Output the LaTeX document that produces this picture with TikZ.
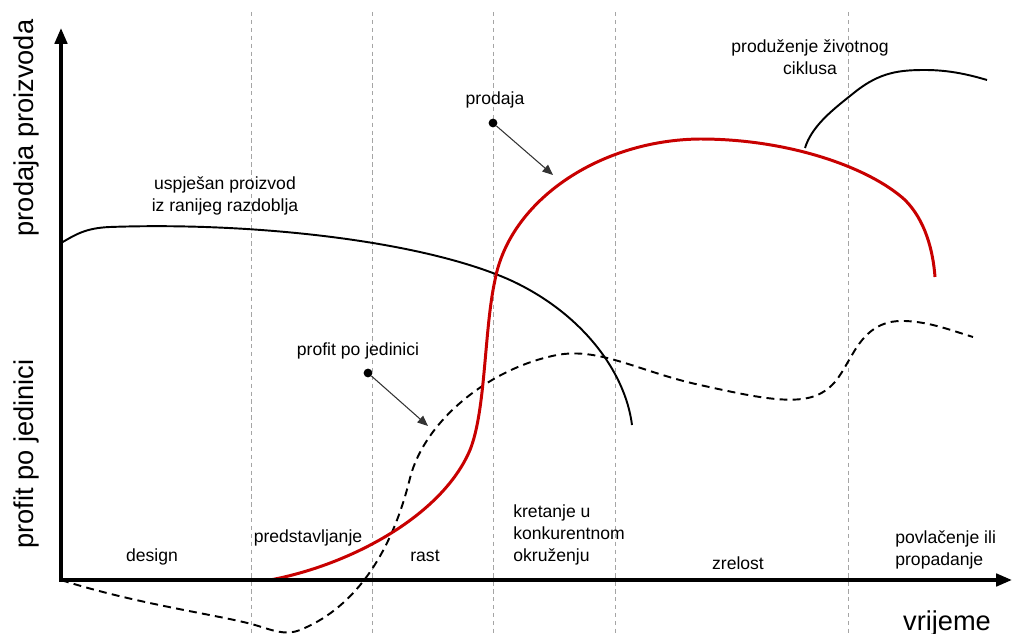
\documentclass[tikz,border=0pt]{standalone}
\usepackage{fontspec}
\setmainfont{Liberation Sans}
\usepackage{xcolor}
\usetikzlibrary{positioning}
\usetikzlibrary{arrows.meta}
\definecolor{darkred}{RGB}{200,0,0}
\definecolor{guidegray}{RGB}{165,165,165}
\tikzset {
  % axes and phase borders
  axis/.style={line width=2pt, {Triangle[length=9pt,width=7pt]}-{Triangle[length=9pt,width=7pt]}},
  phase/.style={guidegray, line width=0.5pt, dash pattern=on 2.5pt off 2pt},
  % the three curves
  sales/.style={darkred, line width=1.7pt},
  older/.style={black, line width=1.1pt},
  profit/.style={black, line width=1.1pt, dash pattern=on 4.5pt off 3pt},
  % labels and pointers
  lbl/.style={font=\fontsize{10}{12.5}\selectfont, inner sep=0pt},
  big/.style={font=\fontsize{15.5}{18}\selectfont, inner sep=0pt},
  dotmark/.style={circle, fill=black, inner sep=0pt, minimum size=5pt},
  pointer/.style={black!80, line width=0.6pt, -{Triangle[length=6pt,width=5pt]}},
}

\begin{document}
\begin{tikzpicture}[x=0.02cm, y=-0.02cm]
  \useasboundingbox (0,0) rectangle (1013,634);

  % phase borders
  \foreach \x in {251,372,493,615,848}
    \draw[phase] (\x,12) -- (\x,634);

  % successful product of the earlier period
  \draw[older] (61,243) .. controls (75,235) and (85,228) .. (110,227)
    .. controls (250,222) and (420,240) .. (510,280)
    .. controls (580,312) and (625,370) .. (632,425);
  % extension of the life cycle
  \draw[older] (805,148) .. controls (812,125) and (835,108) .. (855,92)
    .. controls (880,72) and (900,70) .. (925,70)
    .. controls (950,70) and (970,75) .. (987,80);
  % profit per unit
  \draw[profit] (61,580) .. controls (140,605) and (220,615) .. (255,625)
    .. controls (272,630) and (285,636) .. (300,630)
    .. controls (350,610) and (390,560) .. (410,478)
    .. controls (425,420) and (490,368) .. (557,355)
    .. controls (600,347) and (640,372) .. (700,385)
    .. controls (750,396) and (790,405) .. (815,396)
    .. controls (835,388) and (840,375) .. (852,355)
    .. controls (865,332) and (880,320) .. (905,321)
    .. controls (930,322) and (950,330) .. (973,337);
  % sales
  \draw[sales] (270,580) .. controls (350,565) and (442,516) .. (470,450)
    .. controls (486,410) and (484,330) .. (495,280)
    .. controls (510,200) and (600,140) .. (700,139)
    .. controls (790,139) and (870,168) .. (905,200)
    .. controls (925,220) and (933,250) .. (935,277);

  % axes
  \coordinate (ytop) at (61,28);
  \coordinate (origin) at (61,580);
  \coordinate (xend) at (1012,580);
  \draw[axis] (ytop) -- (origin) -- (xend);

  % axis titles
  \node[big, rotate=90, anchor=base] (ysales) at (33,128) {prodaja proizvoda};
  \node[big, rotate=90, anchor=base] (yprofit) at (33,454) {profit po jedinici};
  \node[big, anchor=base] (time) at (947,630) {vrijeme};

  % phases
  \node[lbl] (design) at (152,557) {design};
  \node[lbl] (intro) at (308,538) {predstavljanje};
  \node[lbl] (growth) at (425,556) {rast};
  \node[lbl, align=left, anchor=west] (compete) at (513,535) {kretanje u\\konkurentnom\\okruženju};
  \node[lbl] (mature) at (738,563) {zrelost};
  \node[lbl, align=left, anchor=west] (decline) at (895,550) {povlačenje ili\\propadanje};

  % curve labels
  \node[lbl, align=center] (olderlbl) at (225,196) {uspješan proizvod\\iz ranijeg razdoblja};
  \node[lbl, align=center] (extend) at (810,57) {produženje životnog\\ciklusa};
  \node[lbl] (profitlbl) at (358,351) {profit po jedinici};
  \node[lbl] (saleslbl) at (495,100) {prodaja};

  % pointers
  \node[dotmark] (pdot) at (368,373) {};
  \coordinate (ptip) at (428,426);
  \draw[pointer] (pdot) -- (ptip);
  \node[dotmark] (sdot) at (493,123) {};
  \coordinate (stip) at (553,175);
  \draw[pointer] (sdot) -- (stip);
\end{tikzpicture}
\end{document}
